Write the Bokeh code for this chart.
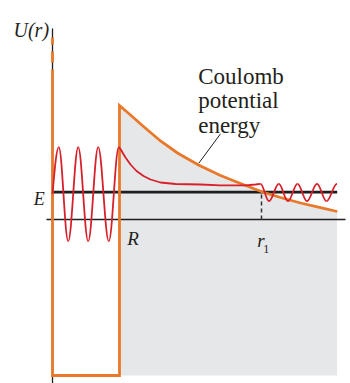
from bokeh.plotting import figure
from bokeh.models import Label
from bokeh.embed import file_html
from bokeh.resources import INLINE

# ---------------- data (arbitrary units) ----------------
R = 6.7            # nuclear radius
r1 = 20.9          # classical turning point
E = 2.73           # energy level
well_bottom = -15.6
x_end = 28.47      # right end of the drawn curves
axis_top = 19.1
axis_bottom = -16.4
axis_left = -0.6
axis_right = 29.3

coulomb_r = [6.7, 7.8, 9.1, 10.8, 12.5, 14.6, 16.8, 18.8, 21.0, 22.8, 24.8, 26.8, 28.47]
coulomb_U = [11.4, 10.45, 9.3, 7.85, 6.65, 5.45, 4.4, 3.6, 2.75, 2.2, 1.65, 1.18, 0.8]

well_dash_top = [18.2, 16.8]
well_dash_bot = [17.5, 15.7]
well_solid_top = 15.0

inner_turn_r = [0.0, 0.63, 1.57, 2.57, 3.57, 4.57, 5.63, 6.63]
inner_turn_psi = [2.53, 7.23, -2.17, 7.23, -2.17, 7.23, -2.17, 7.23]

decay_r = [6.63, 6.8, 7.0, 7.3, 7.8, 8.4, 9.1, 9.8, 10.8, 12.3, 14.8, 16.8, 19.3, 20.3, 20.8]
decay_psi = [7.23, 7.05, 6.7, 6.2, 5.5, 4.85, 4.35, 4.0, 3.7, 3.55, 3.5, 3.42, 3.42, 3.5, 3.57]

outer_turn_r = [20.8, 21.65, 22.63, 23.55, 24.5, 25.45, 26.45, 27.4, 28.45]
outer_turn_psi = [3.57, 1.83, 3.57, 1.83, 3.57, 1.83, 3.57, 1.83, 3.57]

leader_r = [16.8, 14.63]
leader_U = [8.57, 5.63]

# ---------------- styles ----------------
ORANGE = "#e8792a"
RED = "#d8202a"
INK = "#231f20"
FILL = "#e6e7e9"
SERIF = "Liberation Serif"

p = figure(width=350, height=383, x_range=(-5.2, 29.8), y_range=(-16.4, 21.9),
           x_axis_type=None, y_axis_type=None, toolbar_location=None,
           output_backend="svg", min_border=0, outline_line_color=None)
p.background_fill_color = "white"
p.border_fill_color = "white"

# grey region under the Coulomb barrier
p.varea(x=coulomb_r, y1=[well_bottom] * len(coulomb_r), y2=coulomb_U, fill_color=FILL)

# axes
p.line([0, 0], [axis_top, axis_bottom], line_color=INK, line_width=1.3)
p.line([axis_left, axis_right], [0, 0], line_color=INK, line_width=1.3)

# energy level
p.line([0, x_end], [E, E], line_color="#1e1e1e", line_width=2.8)

# potential: well + Coulomb tail
well_x = [0, 0, R, R] + coulomb_r[1:]
well_y = [well_solid_top, well_bottom, well_bottom, coulomb_U[0]] + coulomb_U[1:]
p.line(well_x, well_y, line_color=ORANGE, line_width=2.8, line_join="miter")
p.multi_line([[0, 0], [0, 0]], [[well_dash_top[0], well_dash_bot[0]], [well_dash_top[1], well_dash_bot[1]]],
             line_color=ORANGE, line_width=2.8)


def bezier_parts(xs, ys, first_is_node=False):
    out = {k: [] for k in ("x0", "y0", "x1", "y1", "cx0", "cy0", "cx1", "cy1")}
    for i in range(len(xs) - 1):
        xa, ya, xb, yb = xs[i], ys[i], xs[i + 1], ys[i + 1]
        dx = xb - xa
        if i == 0 and first_is_node:
            c0 = (xa + 0.326 * dx, ya + 0.512 * (yb - ya))
            c1 = (xa + 0.643 * dx, yb)
        else:
            c0 = (xa + 0.3634 * dx, ya)
            c1 = (xb - 0.3634 * dx, yb)
        for k, v in zip(("x0", "y0", "x1", "y1", "cx0", "cy0", "cx1", "cy1"),
                        (xa, ya, xb, yb, c0[0], c0[1], c1[0], c1[1])):
            out[k].append(v)
    return out


p.bezier(**bezier_parts(inner_turn_r, inner_turn_psi, first_is_node=True), line_color=RED, line_width=1.8)
p.line(decay_r, decay_psi, line_color=RED, line_width=1.8, line_join="round")
p.bezier(**bezier_parts(outer_turn_r, outer_turn_psi), line_color=RED, line_width=1.8)

# turning point marker
p.line([r1, r1], [0, E], line_color="#333333", line_width=1.5, line_dash="4 3")

# leader line
p.line(leader_r, leader_U, line_color=INK, line_width=1)


def lab(x, y, text, size, style="italic"):
    p.add_layout(Label(x=x, y=y, text=text, text_font=SERIF, text_font_style=style,
                       text_font_size=size, text_color=INK, text_baseline="alphabetic",
                       text_align="left"))


lab(-3.9, 18.95, "U(r)", "20px")
lab(-1.87, 2.07, "E", "18px")
lab(7.47, -1.93, "R", "19px")
lab(20.47, -2.1, "r", "19px")
lab(21.07, -2.93, "1", "12px", style="normal")
lab(14.57, 14.3, "Coulomb", "23px", style="normal")
lab(14.57, 11.9, "potential", "23px", style="normal")
lab(14.57, 9.4, "energy", "23px", style="normal")

open("out.html", "w").write(file_html(p, INLINE))
